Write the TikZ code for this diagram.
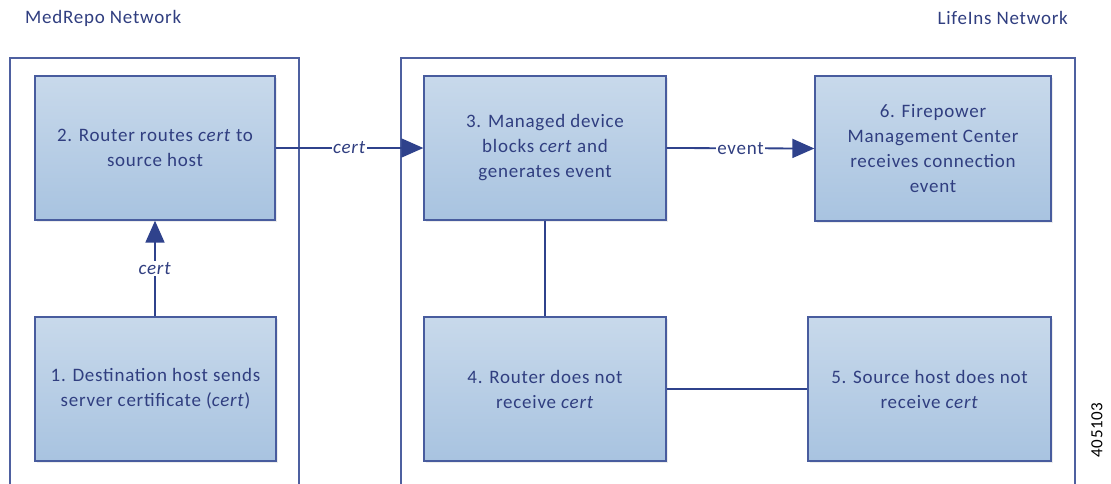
\documentclass[tikz,border=0pt]{standalone}
\usepackage{fontspec}
\setmainfont[LetterSpace=4]{Carlito}
\usetikzlibrary{arrows.meta,shadows}
\definecolor{txtblue}{RGB}{48,62,128}
\definecolor{lineblue}{RGB}{47,66,140}
\definecolor{boxtop}{RGB}{200,217,235}
\definecolor{boxbot}{RGB}{168,195,224}
\definecolor{boxedge}{RGB}{72,92,158}
\definecolor{contedge}{RGB}{78,96,160}
\tikzset{
  stepbox/.style={draw=boxedge, line width=1.3pt, top color=boxtop, bottom color=boxbot,
    text=txtblue, align=center, font=\fontsize{19}{25}\selectfont,
    inner sep=0pt, drop shadow={shadow xshift=2pt, shadow yshift=-2pt, fill=black!12, opacity=0.6}},
  container/.style={draw=contedge, line width=1.6pt},
  conn/.style={draw=lineblue, line width=1.8pt},
  arr/.style={conn, -{Triangle[length=22pt,width=19pt]}},
  lbl/.style={fill=white, text=txtblue, font=\fontsize{19}{21}\selectfont, inner sep=1pt},
  title/.style={text=txtblue, font=\fontsize{19}{21}\selectfont, inner sep=0pt}
}
\begin{document}
\begin{tikzpicture}[x=1pt,y=-1pt]
\useasboundingbox[fill=white] (0,0) rectangle (1111,483);
% containers
\draw[container] (10,484) -- (10,58) -- (299,58) -- (299,484);
\draw[container] (401,484) -- (401,58) -- (1075,58) -- (1075,484);
% titles
\node[title, anchor=west] (tmed) at (25,18) {MedRepo Network};
\node[title, anchor=east] (tlife) at (1068,18) {LifeIns Network};
% boxes
\node[stepbox, minimum width=240pt, minimum height=144pt] (b2) at (155,148) {2. Router routes \textit{cert} to\\source host};
\node[stepbox, minimum width=242pt, minimum height=144pt] (b3) at (545,148) {3. Managed device\\blocks \textit{cert} and\\generates event};
\node[stepbox, minimum width=236pt, minimum height=145pt] (b6) at (933,148.5) {6. Firepower\\Management Center\\receives connection\\event};
\node[stepbox, minimum width=241pt, minimum height=144pt] (b1) at (155.5,389) {1. Destination host sends\\server certificate (\textit{cert})};
\node[stepbox, minimum width=242pt, minimum height=144pt] (b4) at (545,389) {4. Router does not\\receive \textit{cert}};
\node[stepbox, minimum width=243pt, minimum height=144pt] (b5) at (929.5,389) {5. Source host does not\\receive \textit{cert}};
% connectors
\draw[arr] (b1.north -| b2.south) -- node[lbl] {\textit{cert}} (b2.south);
\draw[arr] (b2.east) -- node[lbl] {\textit{cert}} (b3.west);
\draw[arr] (b3.east) -- node[lbl] {event} (b6.west);
\draw[conn] (b3.south) -- (b3.south |- b4.north);
\draw[conn] (b4.east) -- (b4.east -| b5.west);
% figure number
\node[rotate=90, font=\fontsize{17}{19}\selectfont, inner sep=0pt] (fig) at (1097,430) {405103};
\end{tikzpicture}
\end{document}
